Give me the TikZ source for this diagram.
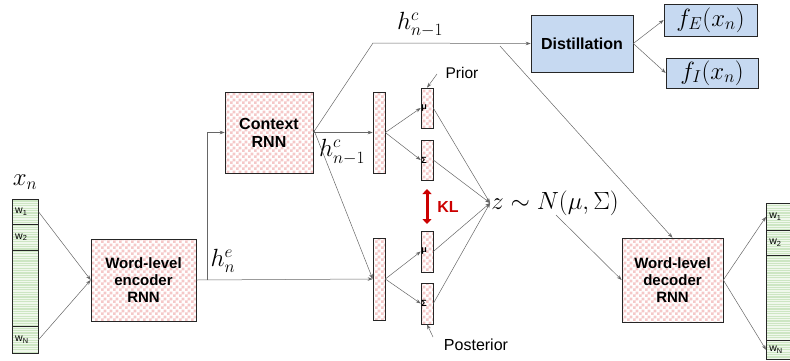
\documentclass[tikz,border=0pt]{standalone}
\usepackage{fontspec}
\setmainfont{Liberation Sans}
\usetikzlibrary{patterns,arrows.meta}
\definecolor{blu}{RGB}{198,217,241}
\definecolor{klred}{RGB}{204,0,0}
\definecolor{chk}{RGB}{245,200,200}
\definecolor{strp}{RGB}{205,230,195}
\definecolor{strpbg}{RGB}{240,248,236}
\pgfdeclarepatternformonly{finecheck}{\pgfpointorigin}{\pgfqpoint{5.6pt}{5.6pt}}{\pgfqpoint{5.6pt}{5.6pt}}{%
  \pgfpathrectangle{\pgfpointorigin}{\pgfqpoint{2.8pt}{2.8pt}}%
  \pgfpathrectangle{\pgfqpoint{2.8pt}{2.8pt}}{\pgfqpoint{2.8pt}{2.8pt}}%
  \pgfusepath{fill}}
\pgfdeclarepatternformonly{finestripes}{\pgfqpoint{-1pt}{0pt}}{\pgfqpoint{10pt}{2.4pt}}{\pgfqpoint{10pt}{2.4pt}}{%
  \pgfpathrectangle{\pgfqpoint{-1pt}{0pt}}{\pgfqpoint{11pt}{1.2pt}}%
  \pgfusepath{fill}}
\begin{document}
\begin{tikzpicture}[x=1pt,y=-1pt,
  pinkbox/.style={draw=black!85, line width=0.6pt, inner sep=0pt, preaction={fill=white}, pattern=finecheck, pattern color=chk, align=center},
  bluebox/.style={draw=black!85, line width=0.6pt, inner sep=0pt, fill=blu, align=center},
  cell/.style={draw=black!85, line width=0.5pt, inner sep=2pt, preaction={fill=strpbg}, pattern=finestripes, pattern color=strp, text width=20pt, align=left, minimum width=26pt, anchor=north west, font=\fontsize{10.5}{11}\selectfont},
  bigtxt/.style={font=\fontsize{15}{17}\selectfont\bfseries},
  midtxt/.style={font=\fontsize{16}{18}\selectfont\bfseries},
  math/.style={font=\fontsize{25}{25}\selectfont, inner sep=0pt},
  conn/.style={draw=black!60, line width=0.5pt, -{Stealth[length=5pt,width=3.5pt]}},
  small/.style={font=\fontsize{9}{9}\selectfont\bfseries}
]
\useasboundingbox (0,0) rectangle (790,360);

% input column
\node[cell, minimum height=25pt] (in1) at (12,199) {w\textsubscript{1}};
\node[cell, minimum height=26pt] (in2) at (12,224) {w\textsubscript{2}};
\node[cell, minimum height=76pt] (inm) at (12,250) {};
\node[cell, minimum height=27pt] (inN) at (12,326) {w\textsubscript{N}};
\node[math] (xn) at (25,182) {$x_n$};

% output column
\node[cell, minimum height=27pt] (out1) at (766,203) {w\textsubscript{1}};
\node[cell, minimum height=25pt] (out2) at (766,230) {w\textsubscript{2}};
\node[cell, minimum height=85pt] (outm) at (766,255) {};
\node[cell, minimum height=19pt] (outN) at (766,340) {w\textsubscript{N}};

% main boxes
\node[pinkbox, bigtxt, minimum width=105pt, minimum height=82pt] (enc) at (143.5,280) {Word-level\\encoder\\RNN};
\node[pinkbox, midtxt, minimum width=88pt, minimum height=81pt] (ctx) at (269,132.5) {Context\\RNN};
\node[pinkbox, bigtxt, minimum width=101pt, minimum height=84pt] (dec) at (672.5,280) {Word-level\\decoder\\RNN};
\node[pinkbox, minimum width=12pt, minimum height=81pt] (prior) at (379,132.5) {};
\node[pinkbox, minimum width=12pt, minimum height=82pt] (post) at (379,279) {};
\node[pinkbox, minimum width=12pt, minimum height=40pt] (pmu) at (427,108) {};
\node[pinkbox, minimum width=12pt, minimum height=40pt] (psig) at (427,160) {};
\node[pinkbox, minimum width=12pt, minimum height=41pt] (qmu) at (427,251.5) {};
\node[pinkbox, minimum width=12pt, minimum height=41pt] (qsig) at (427,303.5) {};
\node[small, anchor=west, inner sep=0.5pt] at (pmu.west) {μ};
\node[small, anchor=west, inner sep=0.5pt] at (psig.west) {Σ};
\node[small, anchor=west, inner sep=0.5pt] at (qmu.west) {μ};
\node[small, anchor=west, inner sep=0.5pt] at (qsig.west) {Σ};

\node[bluebox, midtxt, minimum width=102pt, minimum height=57pt] (dist) at (582,43.5) {Distillation};
\node[bluebox, minimum width=93pt, minimum height=32pt, font=\fontsize{24}{24}\selectfont] (fe) at (710.5,20) {$f_E(x_n)$};
\node[bluebox, minimum width=92pt, minimum height=30pt, font=\fontsize{24}{24}\selectfont] (fi) at (712,73) {$f_I(x_n)$};

% z
\node[font=\fontsize{27}{27}\selectfont, inner sep=1pt] (z) at (555,203) {$z\sim N(\mu,\Sigma)$};

% labels
\node[font=\fontsize{15.5}{16}\selectfont, inner sep=0pt] (priorlbl) at (462,73) {Prior};
\node[font=\fontsize{16}{16}\selectfont, inner sep=0pt] (postlbl) at (476,345) {Posterior};
\node[math] (hc1) at (420,25) {$h^c_{n-1}$};
\node[math] (hc2) at (342,152) {$h^c_{n-1}$};
\node[math] (he) at (223,261) {$h^e_n$};
\node[font=\fontsize{16}{16}\selectfont\bfseries, text=klred, inner sep=0pt] (kl) at (448,207) {KL};

% coordinates
\coordinate (kink) at (373,43);
\coordinate (split) at (207,280);
\coordinate (hcsrc) at (500,46);
\coordinate (zsrc) at (556,215);
\coordinate (klt) at (427,189);
\coordinate (klb) at (427,224);
\coordinate (prt) at (437,74);
\coordinate (pst) at (433,337);

% connectors
\draw[conn] (in1.east) -- (enc.west);
\draw[conn] (inN.east) -- (enc.west);
\draw[conn] (enc.east) -- (post.west);
\draw[conn] (split) |- (ctx.west);
\draw[conn] (ctx.east) -- (prior.west);
\draw[conn] (ctx.east) -- (kink) -- (dist.west);
\draw[conn] ([yshift=4pt]ctx.east) -- (post.west);
\draw[conn] (prior.east) -- (pmu.west);
\draw[conn] (prior.east) -- (psig.west);
\draw[conn] (post.east) -- (qmu.west);
\draw[conn] (post.east) -- (qsig.west);
\draw[conn] (pmu.east) -- (z.west);
\draw[conn] (psig.east) -- (z.west);
\draw[conn] (qmu.east) -- (z.west);
\draw[conn] (qsig.east) -- (z.west);
\draw[conn] (prt) -- (pmu.north);
\draw[conn] (pst) -- (qsig.south);
\draw[conn] (zsrc) -- (dec.west);
\draw[conn] (hcsrc) -- (dec.north);
\draw[conn] (dec.east) -- (out1.west);
\draw[conn] (dec.east) -- (outN.west);
\draw[conn] (dist.east) -- (fe.west);
\draw[conn] (dist.east) -- (fi.west);
\draw[klred, line width=3pt, {Triangle[length=5pt,width=9pt]}-{Triangle[length=5pt,width=9pt]}] (klt) -- (klb);
\end{tikzpicture}
\end{document}
